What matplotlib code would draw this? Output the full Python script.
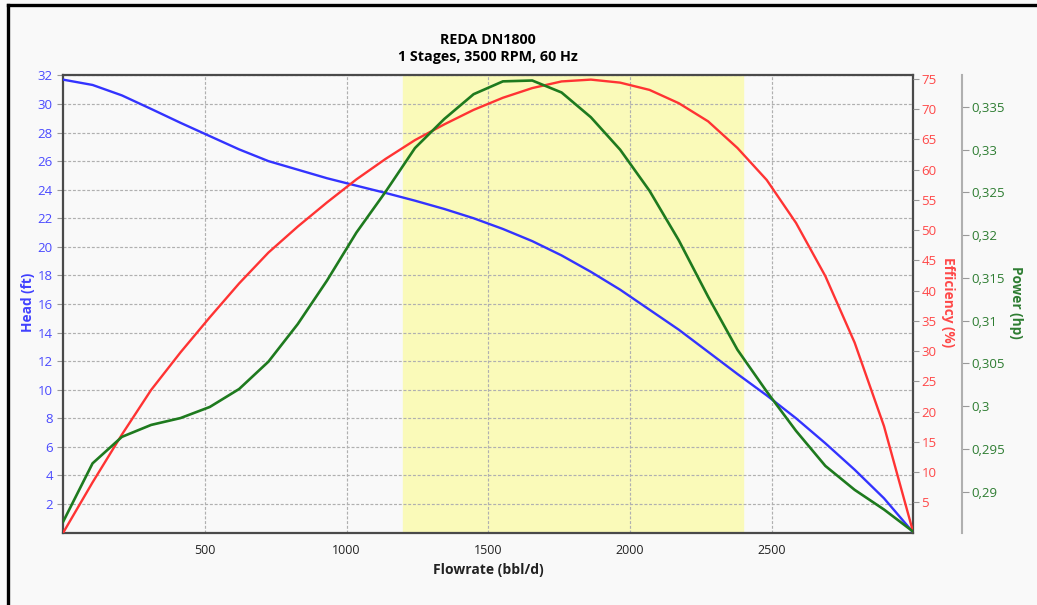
import matplotlib
matplotlib.use("Agg")
import matplotlib.pyplot as plt
from matplotlib.lines import Line2D
from matplotlib.ticker import FuncFormatter

plt.rcParams["font.family"] = ["Open Sans", "DejaVu Sans"]

# pump curve points (30 points from 0 to 3000 bbl/d)
flow = [0, 103.4, 206.9, 310.3, 413.8, 517.2, 620.7, 724.1, 827.6, 931.0,
        1034.5, 1137.9, 1241.4, 1344.8, 1448.3, 1551.7, 1655.2, 1758.6, 1862.1, 1965.5,
        2069.0, 2172.4, 2275.9, 2379.3, 2482.8, 2586.2, 2689.7, 2793.1, 2896.6, 3000]
head = [31.7, 31.33, 30.6, 29.65, 28.68, 27.75, 26.82, 26.0, 25.4, 24.8,
        24.28, 23.77, 23.23, 22.65, 22.0, 21.25, 20.4, 19.4, 18.25, 17.0,
        15.6, 14.2, 12.65, 11.1, 9.6, 8.0, 6.25, 4.4, 2.4, 0.0]
efficiency = [0.0, 8.3, 16.2, 23.6, 29.8, 35.6, 41.2, 46.3, 50.6, 54.6,
              58.4, 61.8, 64.9, 67.5, 69.9, 71.9, 73.5, 74.6, 74.9, 74.4,
              73.2, 71.0, 68.0, 63.6, 58.3, 51.2, 42.4, 31.4, 17.6, 0.0]
power = [0.2865, 0.2933, 0.2964, 0.2978, 0.2986, 0.2999, 0.3020, 0.3052, 0.3096, 0.3147,
         0.3203, 0.3251, 0.3302, 0.3336, 0.3365, 0.3380, 0.3381, 0.3367, 0.3338, 0.3300,
         0.3252, 0.3194, 0.3128, 0.3066, 0.3017, 0.2971, 0.2930, 0.2902, 0.2879, 0.2853]

op_range = (1200, 2400)
x_ticks = [500, 1000, 1500, 2000, 2500]
head_ticks = list(range(2, 33, 2))
eff_ticks = list(range(5, 76, 5))
power_ticks = [0.29, 0.295, 0.3, 0.305, 0.31, 0.315, 0.32, 0.325, 0.33, 0.335]

blue = "#3333ff"
red = "#ff3333"
green = "#1e7a1e"
bg = "#f9f9f9"

fig = plt.figure(figsize=(10.37, 6.05), dpi=100, facecolor=bg)
ax = fig.add_axes([0.061, 0.1197, 0.8197, 0.7557])
ax.set_facecolor(bg)

ax.axvspan(*op_range, color="#fafab9", zorder=0)
ax.set_xlim(0, 3000)
ax.set_ylim(0, 32)
ax.set_xticks(x_ticks)
ax.set_yticks(head_ticks)
ax.grid(True, color="#b0b0b0", linestyle=(0, (2.5, 1.5)), linewidth=0.85, zorder=1)
ax.set_axisbelow(True)
ax.tick_params(axis="x", length=0, labelsize=9, pad=8, colors="#222222")
ax.tick_params(axis="y", length=4, labelsize=9.5, colors="#999999", labelcolor="#4a4aff")
for s in ax.spines.values():
    s.set_color("#4a4a4a")
    s.set_linewidth(1.6)

ax2 = ax.twinx()
ax2.set_ylim(0, 75.6)
ax2.set_yticks(eff_ticks)
ax2.tick_params(axis="y", length=4, labelsize=9.5, colors="#999999", labelcolor="#ff4848", pad=2)
for s in ax2.spines.values():
    s.set_visible(False)

ax3 = ax.twinx()
ax3.set_ylim(0.2852, 0.3387)
ax3.set_yticks(power_ticks)
ax3.yaxis.set_major_formatter(FuncFormatter(lambda v, p: f"{v:g}".replace(".", ",")))
ax3.spines["right"].set_position(("axes", 1.0573))
ax3.spines["right"].set_color("#b0b0b0")
ax3.spines["right"].set_linewidth(1.5)
for k in ["left", "top", "bottom"]:
    ax3.spines[k].set_visible(False)
ax3.tick_params(axis="y", length=5, labelsize=9.5, colors="#999999", labelcolor="#2e7d32", pad=2)

ax.plot(flow, head, color=blue, linewidth=1.7, zorder=3)
ax2.plot(flow, efficiency, color=red, linewidth=1.7)
ax3.plot(flow, power, color=green, linewidth=1.9)

fig.text(0.4706, 0.934, "REDA DN1800", ha="center", va="center", fontsize=10.3, fontweight="bold")
fig.text(0.4706, 0.906, "1 Stages, 3500 RPM, 60 Hz", ha="center", va="center", fontsize=10.3, fontweight="bold")
fig.text(0.4706, 0.058, "Flowrate (bbl/d)", ha="center", va="center", fontsize=10, fontweight="bold", color="#222222")
fig.text(0.027, 0.50, "Head (ft)", ha="center", va="center", rotation=90, fontsize=9.8, fontweight="bold", color="#4040ff")
fig.text(0.914, 0.50, "Efficiency (%)", ha="center", va="center", rotation=-90, fontsize=9.8, fontweight="bold", color="#ff4848")
fig.text(0.980, 0.50, "Power (hp)", ha="center", va="center", rotation=-90, fontsize=9.8, fontweight="bold", color="#2e7d32")

# frame lines of the screenshot
fig.add_artist(Line2D([0.0075, 1.0], [0.992, 0.992], color="black", linewidth=2.4, transform=fig.transFigure))
fig.add_artist(Line2D([0.0075, 0.0075], [0.0, 0.992], color="black", linewidth=2.4, transform=fig.transFigure))

fig.savefig("out.png", dpi=100, facecolor=bg)
